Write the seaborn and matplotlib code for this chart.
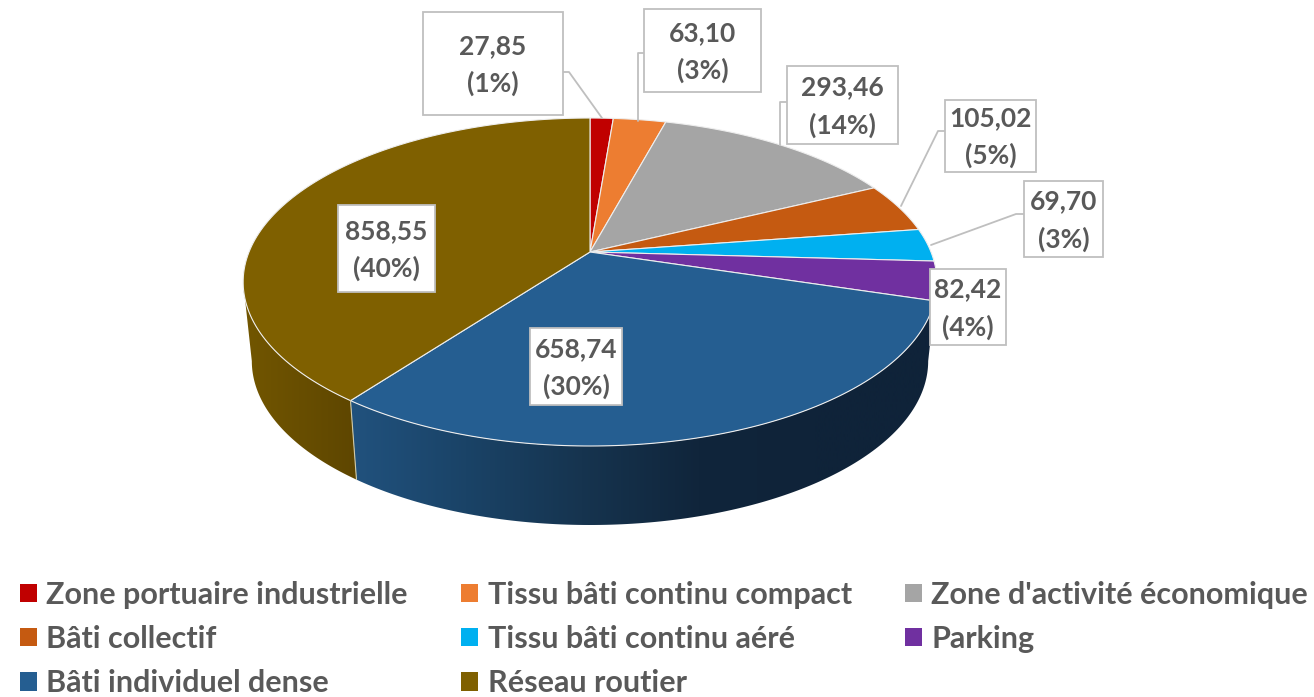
import numpy as np
import matplotlib
matplotlib.use('agg')
import seaborn as sns
import matplotlib.pyplot as plt
from matplotlib.patches import Patch, Polygon, Rectangle

# data
CATEGORIES = ["Zone portuaire industrielle", "Tissu bâti continu compact", "Zone d'activité économique",
              "Bâti collectif", "Tissu bâti continu aéré", "Parking",
              "Bâti individuel dense", "Réseau routier"]
VALUES = [27.85, 63.10, 293.46, 105.02, 69.70, 82.42, 658.74, 858.55]
PERCENTS = [1, 3, 14, 5, 3, 4, 30, 40]
COLORS = ["#c00000", "#ed7d31", "#a5a5a5", "#c55a11", "#00b0f0", "#7030a0", "#255e91", "#7f6000"]

# layout in pixels: label boxes (x0, y0, x1, y1) and their leader lines
BOXES = [(423, 12, 563, 115), (644, 9, 761, 92), (787, 66, 898, 144), (945, 100, 1036, 172),
         (1024, 181, 1103, 257), (930, 269, 1006, 345), (530, 328, 622, 405), (338, 205, 435, 292)]
LEADERS = {0: [(563, 72), (569, 72), (602, 118)],
           1: [(644, 53), (638, 53), (638, 121)],
           2: [(787, 102), (780, 102), (780, 145)],
           3: [(945, 131), (938, 131), (901, 206)],
           4: [(1024, 214), (1016, 214), (931, 245)]}

CX, CY = 590, 252
A, B, K = 341, 158.5, 0.183
DEPTH, SHRINK = 79, 0.975
TEXT = "#595959"
LINE = "#bfbfbf"


def project(theta):
	# circle seen in perspective, theta clockwise from the top
	u, v = np.sin(theta), np.cos(theta)
	w = 1 + K * v
	return np.column_stack([CX + A * u / w, CY - B * v / w])


def lower(pts):
	out = pts.copy()
	out[:, 0] = CX + (out[:, 0] - CX) * SHRINK
	out[:, 1] = out[:, 1] + DEPTH
	return out


def draw_wall(ax, t0, t1, colors, x0, x1):
	top = project(np.linspace(t0, t1, 150))
	poly = np.vstack([top, lower(top)[::-1]])
	patch = Polygon(poly, closed=True, facecolor="none", edgecolor="none", zorder=1)
	ax.add_patch(patch)
	grad = np.array(sns.blend_palette(colors, n_colors=256))[None, :, :]
	im = ax.imshow(grad, extent=(x0, x1, 697, 0), aspect="auto", zorder=1, interpolation="bilinear")
	im.set_clip_path(patch)


sns.set_theme(style="white")
plt.rcParams['font.family'] = ['Lato', 'DejaVu Sans']

fig = plt.figure(figsize=(13.14, 6.97), dpi=100)
ax = fig.add_axes([0, 0, 1, 1])
ax.set_axis_off()

fractions = np.array(VALUES) / np.sum(VALUES)
edges = np.concatenate([[0], np.cumsum(fractions)]) * 2 * np.pi

# silhouette angle of the perspective ellipse, walls stop there
side = np.arccos(-K)

# side walls, only the slices facing the viewer show
draw_wall(ax, side, edges[7], ["#21527e", "#1a4367", "#16344f", "#10253b", "#0f2339", "#0f2339"], 349, 932)
draw_wall(ax, edges[7], 2 * np.pi - side, ["#725600", "#5e4600"], 243, 356)

# top face
center = np.array([[CX, CY]])
for i, color in enumerate(COLORS):
	arc = project(np.linspace(edges[i], edges[i + 1], 120))
	ax.add_patch(Polygon(np.vstack([center, arc]), closed=True, facecolor=color,
						 edgecolor="#eeeeee", linewidth=0.8, zorder=2))

# wall seam between the two big slices
seam = project(np.array([edges[7]]))
seam = np.vstack([seam, lower(seam)])
ax.plot(seam[:, 0], seam[:, 1], color="#cfc9a8", lw=0.8, zorder=2)

# leaders and label boxes
for pts in LEADERS.values():
	pts = np.array(pts)
	ax.plot(pts[:, 0], pts[:, 1], color=LINE, lw=1.3, zorder=3)

for value, pct, (x0, y0, x1, y1) in zip(VALUES, PERCENTS, BOXES):
	ax.add_patch(Rectangle((x0, y0), x1 - x0, y1 - y0, facecolor="white", edgecolor=LINE, lw=1.3, zorder=4))
	label = "{:.2f}".format(value).replace(".", ",") + "\n({}%)".format(pct)
	ax.text((x0 + x1) / 2, (y0 + y1) / 2 + 1.5, label, ha="center", va="center", color=TEXT,
			fontsize=19, fontweight="bold", linespacing=1.6, zorder=5)

ax.set_xlim(0, 1314)
ax.set_ylim(697, 0)

# legend fills by column, the reference reads by row
handles = [Patch(facecolor=c, edgecolor="none", label=n) for c, n in zip(COLORS, CATEGORIES)]
order = [0, 3, 6, 1, 4, 7, 2, 5]
fig.legend([handles[i] for i in order], [CATEGORIES[i] for i in order], ncols=3,
		   loc="lower left", bbox_to_anchor=(20 / 1314, 0.0), frameon=False, labelcolor=TEXT,
		   prop={"size": 22, "weight": "bold"}, handlelength=0.56, handleheight=0.56, handletextpad=0.3,
		   columnspacing=1.75, labelspacing=0.53, borderpad=0, borderaxespad=0)

fig.savefig("out.png", dpi=100)
